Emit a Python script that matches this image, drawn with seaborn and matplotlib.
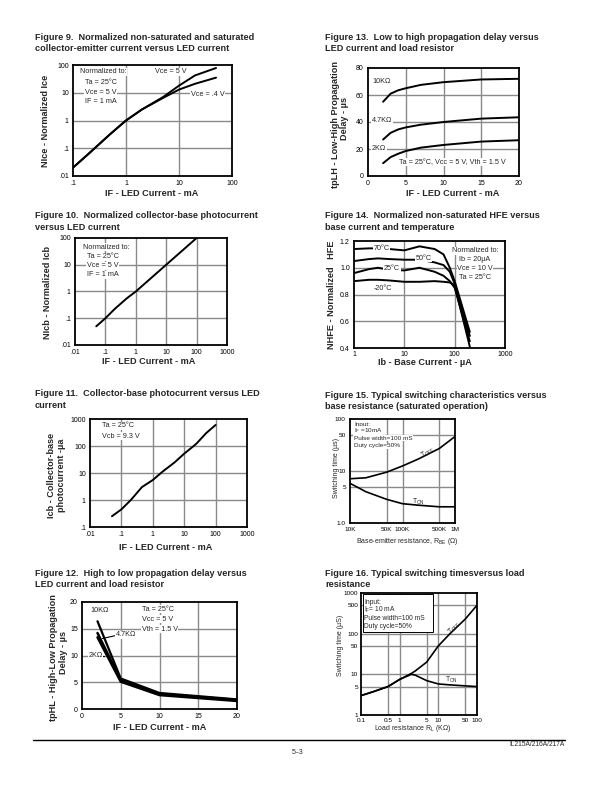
import numpy as np
import pandas as pd
import matplotlib
matplotlib.use("Agg")
import matplotlib.pyplot as plt
import seaborn as sns
from matplotlib.ticker import FixedLocator, NullFormatter, MultipleLocator
from matplotlib.patches import Rectangle

sns.set_theme(style="white")
plt.rcParams['font.family'] = ['Liberation Sans', 'DejaVu Sans']
plt.rcParams['mathtext.fontset'] = 'custom'
plt.rcParams['mathtext.rm'] = 'Liberation Sans'
plt.rcParams['mathtext.it'] = 'Liberation Sans:italic'
plt.rcParams['mathtext.bf'] = 'Liberation Sans:bold'

# ---------------- data ----------------
# Figure 9
fig9_if = [0.1, 0.2, 0.5, 1, 2, 5, 10, 20, 50]
fig9_vce5 = [0.02, 0.065, 0.32, 1, 2.5, 7.0, 18, 42, 78]
fig9_vce04 = [0.02, 0.065, 0.32, 1, 2.5, 6.5, 13, 21, 35]
fig9_xticks = [0.1, 1, 10, 100]
fig9_xlabels = [".1", "1", "10", "100"]
fig9_yticks = [0.01, 0.1, 1, 10, 100]
fig9_ylabels = [".01", ".1", "1", "10", "100"]

# Figure 13
fig13_if = [2, 3, 4, 5, 7, 10, 15, 20]
fig13_10k = [55, 61, 63.5, 65, 67.5, 69.5, 71.5, 72]
fig13_47k = [27, 32, 34.5, 36, 38, 40, 42.5, 43.5]
fig13_2k = [9.5, 14, 16.5, 18.5, 21, 23, 25.5, 26.5]
fig13_xticks = [0, 5, 10, 15, 20]
fig13_yticks = [0, 20, 40, 60, 80]

# Figure 10
fig10_if = [0.05, 0.1, 0.2, 0.5, 1, 10, 100]
fig10_nicb = [0.05, 0.1, 0.22, 0.55, 1, 10, 100]
fig10_xticks = [0.01, 0.1, 1, 10, 100, 1000]
fig10_xlabels = [".01", ".1", "1", "10", "100", "1000"]
fig10_yticks = [0.01, 0.1, 1, 10, 100]
fig10_ylabels = [".01", ".1", "1", "10", "100"]

# Figure 14
fig14_ib = [1, 2, 3, 5, 10, 20, 40, 60, 80, 100, 200]
fig14_70 = [1.14, 1.145, 1.145, 1.14, 1.13, 1.16, 1.14, 1.10, 1.00, 0.90, 0.52]
fig14_50 = [1.05, 1.065, 1.07, 1.065, 1.06, 1.06, 1.04, 1.02, 0.97, 0.88, 0.49]
fig14_25 = [0.96, 0.99, 1.00, 0.985, 0.98, 1.00, 0.97, 0.94, 0.90, 0.85, 0.45]
fig14_m20 = [0.90, 0.91, 0.91, 0.905, 0.895, 0.895, 0.90, 0.895, 0.89, 0.87, 0.41]
fig14_xticks = [1, 10, 100, 1000]
fig14_xlabels = ["1", "10", "100", "1000"]
fig14_yticks = [0.4, 0.6, 0.8, 1.0, 1.2]
fig14_ylabels = ["0.4", "0.6", "0.8", "1.0", "1.2"]

# Figure 11
fig11_if = [0.05, 0.1, 0.2, 0.45, 1, 2, 5, 10, 20, 25, 50, 100]
fig11_icb = [0.25, 0.45, 1.0, 3, 5.5, 11, 25, 52, 100, 125, 300, 600]
fig11_xticks = [0.01, 0.1, 1, 10, 100, 1000]
fig11_xlabels = [".01", ".1", "1", "10", "100", "1000"]
fig11_yticks = [0.1, 1, 10, 100, 1000]
fig11_ylabels = [".1", "1", "10", "100", "1000"]

# Figure 15
fig15_rbe = [10e3, 20e3, 50e3, 100e3, 200e3, 500e3, 1e6]
fig15_toff = [7.1, 7.4, 9.5, 12.5, 17, 27, 46]
fig15_ton = [5.8, 4.0, 2.85, 2.35, 2.2, 2.05, 2.05]
fig15_xticks = [10e3, 50e3, 100e3, 500e3, 1e6]
fig15_xlabels = ["10K", "50K", "100K", "500K", "1M"]
fig15_yticks = [1, 5, 10, 50, 100]
fig15_ylabels = ["1.0", "5", "10", "50", "100"]

# Figure 12
fig12_if = [2, 5, 10, 20]
fig12_10k = [16.4, 5.7, 3.0, 1.8]
fig12_47k = [14.2, 5.4, 2.8, 1.7]
fig12_2k = [13.4, 5.1, 2.6, 1.5]
fig12_xticks = [0, 5, 10, 15, 20]
fig12_yticks = [0, 5, 10, 15, 20]

# Figure 16
fig16_rl = [0.1, 0.2, 0.5, 1, 2, 2.5, 5, 10, 20, 50, 100]
fig16_toff = [3.0, 3.7, 5, 7.5, 10.5, 12, 20, 50, 100, 230, 500]
fig16_ton = [3.0, 3.7, 5, 7.5, 10, 9.6, 7, 5.8, 5.5, 5.2, 5.0]
fig16_xticks = [0.1, 0.5, 1, 5, 10, 50, 100]
fig16_xlabels = ["0.1", "0.5", "1", "5", "10", "50", "100"]
fig16_yticks = [1, 5, 10, 50, 100, 500, 1000]
fig16_ylabels = ["1", "5", "10", "50", "100", "500", "1000"]

# ---------------- layout helpers ----------------
W, H = 595, 792
fig = plt.figure(figsize=(W / 100, H / 100), dpi=100)
fig.patch.set_facecolor("white")

GRID = "#8a8a8a"
TICKFS = 5
LABFS = 6.6
TITFS = 6.6


def add_ax(l, r, t, b):
    ax = fig.add_axes([l / W, 1 - b / H, (r - l) / W, (b - t) / H])
    ax.set_facecolor("white")
    for s in ax.spines.values():
        s.set_color("black")
        s.set_linewidth(1.3)
        s.set_visible(True)
    ax.tick_params(which="both", direction="in", colors="black",
                   labelsize=TICKFS, pad=3)
    ax.tick_params(which="major", length=0)
    ax.tick_params(which="minor", length=2.2, width=0.8)
    ax.set_xlabel("")
    ax.set_ylabel("")
    return ax


def ftext(x, y, s, **kw):
    kw.setdefault("va", "center")
    kw.setdefault("ha", "left")
    kw.setdefault("fontsize", 5.2)
    return fig.text(x / W, 1 - y / H, s, **kw)


def title(x, y, lines):
    for i, ln in enumerate(lines):
        ftext(x, y + i * 11.2, ln, fontsize=TITFS, fontweight="bold")


def grid_lines(ax, xs, ys):
    for v in xs:
        ax.axvline(v, color=GRID, lw=1.0, zorder=0.5)
    for v in ys:
        ax.axhline(v, color=GRID, lw=1.0, zorder=0.5)


WB = dict(fc="white", ec="none", pad=0.4)


def curve(ax, x, y, lw=1.4):
    sns.lineplot(x=x, y=y, ax=ax, color="black", lw=lw, sort=False,
                 estimator=None, zorder=3)


# ---------------- Figure 9 ----------------
title(35, 37, ["Figure 9.  Normalized non-saturated and saturated",
               "collector-emitter current versus LED current"])
ax = add_ax(73, 232, 65, 176)
curve(ax, fig9_if, fig9_vce5)
curve(ax, fig9_if, fig9_vce04)
ax.set_xscale("log"); ax.set_yscale("log")
ax.set_xlim(0.1, 100); ax.set_ylim(0.01, 100)
grid_lines(ax, fig9_xticks[1:-1], fig9_yticks[1:-1])
ax.xaxis.set_major_locator(FixedLocator(fig9_xticks))
ax.set_xticklabels(fig9_xlabels)
ax.yaxis.set_major_locator(FixedLocator(fig9_yticks))
ax.set_yticklabels(fig9_ylabels)
ax.xaxis.set_minor_locator(FixedLocator([m * d for d in (0.1, 1, 10) for m in range(2, 10)]))
ax.xaxis.set_minor_formatter(NullFormatter())
ax.yaxis.set_minor_locator(FixedLocator([]))
ftext(152, 194, "IF - LED Current - mA", ha="center", fontsize=LABFS, fontweight="bold")
ftext(46, 121, "NIce - Normalized Ice", ha="center", rotation=90, fontsize=LABFS, fontweight="bold")
ftext(80, 71.7, "Normalized to:", bbox=WB)
ftext(85, 82.3, "Ta = 25°C", bbox=WB)
ftext(85, 92.3, "Vce = 5 V", bbox=WB)
ftext(85, 101.7, "IF = 1 mA", bbox=WB)
ftext(155, 71.7, "Vce = 5 V", bbox=WB)
ftext(191, 94.3, "Vce = .4 V", bbox=WB)

# ---------------- Figure 13 ----------------
title(325, 37, ["Figure 13.  Low to high propagation delay versus",
                "LED current and load resistor"])
ax = add_ax(368, 519, 68, 176)
curve(ax, fig13_if, fig13_10k)
curve(ax, fig13_if, fig13_47k)
curve(ax, fig13_if, fig13_2k)
ax.set_xlim(0, 20); ax.set_ylim(0, 80)
grid_lines(ax, fig13_xticks[1:-1], fig13_yticks[1:-1])
ax.xaxis.set_major_locator(FixedLocator(fig13_xticks))
ax.yaxis.set_major_locator(FixedLocator(fig13_yticks))
ax.set_xticklabels([str(v) for v in fig13_xticks])
ax.set_yticklabels([str(v) for v in fig13_yticks])
ax.xaxis.set_minor_locator(MultipleLocator(1))
ax.yaxis.set_minor_locator(MultipleLocator(5))
ftext(453, 193, "IF - LED Current - mA", ha="center", fontsize=LABFS, fontweight="bold")
ftext(335, 124, "tpLH - Low-High Propagation", ha="center", rotation=90, fontsize=LABFS, fontweight="bold")
ftext(344, 118, "Delay - µs", ha="center", rotation=90, fontsize=LABFS, fontweight="bold")
ftext(372.7, 81.7, "10KΩ", bbox=WB)
ftext(371.7, 120.7, "4.7KΩ", bbox=WB)
ftext(371.7, 148.3, "2KΩ", bbox=WB)
ftext(399, 162.3, "Ta = 25°C, Vcc = 5 V, Vth = 1.5 V", bbox=WB)

# ---------------- Figure 10 ----------------
title(35, 216, ["Figure 10.  Normalized collector-base photocurrent",
                "versus LED current"])
ax = add_ax(75, 227, 238, 345)
curve(ax, fig10_if, fig10_nicb)
ax.set_xscale("log"); ax.set_yscale("log")
ax.set_xlim(0.01, 1000); ax.set_ylim(0.01, 100)
grid_lines(ax, fig10_xticks[1:-1], fig10_yticks[1:-1])
ax.xaxis.set_major_locator(FixedLocator(fig10_xticks))
ax.set_xticklabels(fig10_xlabels)
ax.yaxis.set_major_locator(FixedLocator(fig10_yticks))
ax.set_yticklabels(fig10_ylabels)
ax.xaxis.set_minor_locator(FixedLocator([m * d for d in (0.01, 0.1, 1, 10, 100) for m in range(2, 10)]))
ax.xaxis.set_minor_formatter(NullFormatter())
ax.yaxis.set_minor_locator(FixedLocator([]))
ftext(148.5, 361, "IF - LED Current - mA", ha="center", fontsize=LABFS, fontweight="bold")
ftext(48, 292, "NIcb - Normalized Icb", ha="center", rotation=90, fontsize=LABFS, fontweight="bold")
ftext(83.3, 247.3, "Normalized to:", bbox=WB)
ftext(86.7, 256.7, "Ta = 25°C", bbox=WB)
ftext(86.7, 265.7, "Vce = 5 V", bbox=WB)
ftext(86.7, 275, "IF = 1 mA", bbox=WB)

# ---------------- Figure 14 ----------------
title(325, 216, ["Figure 14.  Normalized non-saturated HFE versus",
                 "base current and temperature"])
ax = add_ax(354, 505, 241, 348)
for ys in (fig14_70, fig14_50, fig14_25, fig14_m20):
    curve(ax, fig14_ib, ys)
ax.set_xscale("log")
ax.set_xlim(1, 1000); ax.set_ylim(0.4, 1.2)
grid_lines(ax, fig14_xticks[1:-1], fig14_yticks[1:-1])
ax.xaxis.set_major_locator(FixedLocator(fig14_xticks))
ax.set_xticklabels(fig14_xlabels)
ax.yaxis.set_major_locator(FixedLocator(fig14_yticks))
ax.set_yticklabels(fig14_ylabels)
ax.xaxis.set_minor_locator(FixedLocator([m * d for d in (1, 10, 100) for m in range(2, 10)]))
ax.xaxis.set_minor_formatter(NullFormatter())
ax.yaxis.set_minor_locator(FixedLocator([]))
ax.tick_params(axis="x", pad=2.2)
ftext(425, 362.5, "Ib - Base Current - µA", ha="center", fontsize=LABFS, fontweight="bold")
ftext(332, 295, "NHFE - Normalized   HFE", ha="center", rotation=90, fontsize=LABFS, fontweight="bold")
ftext(373.3, 248.3, "70°C", bbox=WB)
ftext(415.7, 258.3, "50°C", bbox=WB)
ftext(384, 269, "25°C", bbox=WB)
ftext(373.3, 288.3, "-20°C", bbox=WB)
ftext(475, 250.7, "Normalized to:", ha="center", bbox=WB)
ftext(475, 259.3, "Ib = 20µA", ha="center", bbox=WB)
ftext(475, 268.3, "Vce = 10 V", ha="center", bbox=WB)
ftext(475, 277.3, "Ta = 25°C", ha="center", bbox=WB)

# ---------------- Figure 11 ----------------
title(35, 394, ["Figure 11.  Collector-base photocurrent versus LED",
                "current"])
ax = add_ax(90, 247, 419, 527)
curve(ax, fig11_if, fig11_icb)
ax.set_xscale("log"); ax.set_yscale("log")
ax.set_xlim(0.01, 1000); ax.set_ylim(0.1, 1000)
grid_lines(ax, fig11_xticks[1:-1], fig11_yticks[1:-1])
ax.xaxis.set_major_locator(FixedLocator(fig11_xticks))
ax.set_xticklabels(fig11_xlabels)
ax.yaxis.set_major_locator(FixedLocator(fig11_yticks))
ax.set_yticklabels(fig11_ylabels)
ax.xaxis.set_minor_locator(FixedLocator([m * d for d in (0.01, 0.1, 1, 10, 100) for m in range(2, 10)]))
ax.xaxis.set_minor_formatter(NullFormatter())
ax.yaxis.set_minor_locator(FixedLocator([]))
ftext(165.7, 547.7, "IF - LED Current - mA", ha="center", fontsize=LABFS, fontweight="bold")
ftext(51, 475, "Icb - Collector-base", ha="center", rotation=90, fontsize=LABFS, fontweight="bold")
ftext(62, 475, "photocurrent -µa", ha="center", rotation=90, fontsize=LABFS, fontweight="bold")
ftext(102.3, 425.7, "Ta = 25°C", bbox=WB)
ftext(102.3, 436, "Vcb = 9.3 V", bbox=WB)

# ---------------- Figure 15 ----------------
title(325, 395, ["Figure 15. Typical switching characteristics versus",
                 "base resistance (saturated operation)"])
ax = add_ax(350, 455, 419, 523)
curve(ax, fig15_rbe, fig15_toff, lw=1.2)
curve(ax, fig15_rbe, fig15_ton, lw=1.2)
ax.set_xscale("log"); ax.set_yscale("log")
ax.set_xlim(10e3, 1e6); ax.set_ylim(1, 100)
grid_lines(ax, fig15_xticks[1:-1], fig15_yticks[1:-1])
ax.xaxis.set_major_locator(FixedLocator(fig15_xticks))
ax.set_xticklabels(fig15_xlabels)
ax.yaxis.set_major_locator(FixedLocator(fig15_yticks))
ax.set_yticklabels(fig15_ylabels)
ax.xaxis.set_minor_locator(FixedLocator([]))
ax.yaxis.set_minor_locator(FixedLocator([]))
ax.tick_params(labelsize=4.6)
ftext(407, 541.7, "Base-emitter resistance, R$_\\mathregular{BE}$ (Ω)", ha="center", fontsize=5)
ftext(336, 468, "Switching time (µs)", ha="center", rotation=90, fontsize=5)
ftext(354, 424.3, "Input:", fontsize=4.6, bbox=WB)
ftext(354, 430.7, "I$_\\mathregular{F}$ =10mA", fontsize=4.6, bbox=WB)
ftext(354, 438.3, "Pulse width=100 mS", fontsize=4.6, bbox=WB)
ftext(354, 446, "Duty cycle=50%", fontsize=4.6, bbox=WB)
ftext(428, 453, "T$_\\mathregular{OFF}$", ha="center", rotation=30, fontsize=4.8)
ftext(418, 501.7, "T$_\\mathregular{ON}$", ha="center", fontsize=4.8)

# ---------------- Figure 12 ----------------
title(35, 573, ["Figure 12.  High to low propagation delay versus",
                "LED current and load resistor"])
ax = add_ax(82, 237, 602, 709)
curve(ax, fig12_if, fig12_10k, lw=1.6)
curve(ax, fig12_if, fig12_47k, lw=1.8)
curve(ax, fig12_if, fig12_2k, lw=1.8)
ax.set_xlim(0, 20); ax.set_ylim(0, 20)
grid_lines(ax, fig12_xticks[1:-1], fig12_yticks[1:-1])
ax.xaxis.set_major_locator(FixedLocator(fig12_xticks))
ax.yaxis.set_major_locator(FixedLocator(fig12_yticks))
ax.set_xticklabels([str(v) for v in fig12_xticks])
ax.set_yticklabels([str(v) for v in fig12_yticks])
ax.xaxis.set_minor_locator(MultipleLocator(1))
ax.yaxis.set_minor_locator(MultipleLocator(1))
ftext(160, 728, "IF - LED Current - mA", ha="center", fontsize=LABFS, fontweight="bold")
ftext(54, 658, "tpHL - High-Low Propagation", ha="center", rotation=90, fontsize=LABFS, fontweight="bold")
ftext(63, 652, "Delay - µs", ha="center", rotation=90, fontsize=LABFS, fontweight="bold")
ftext(90, 610.7, "10KΩ", bbox=WB)
ftext(116, 635, "4.7KΩ", bbox=WB)
ftext(88.3, 655.7, "2KΩ", bbox=WB)
fig.add_artist(plt.Line2D([102.5 / W, 116 / W], [1 - 638.5 / H, 1 - 635.5 / H], color="black", lw=0.8))
fig.add_artist(plt.Line2D([99 / W, 104 / W], [1 - 655.7 / H, 1 - 655.7 / H], color="black", lw=0.8))
ftext(141.7, 609.3, "Ta = 25°C", bbox=WB)
ftext(141.7, 619.3, "Vcc = 5 V", bbox=WB)
ftext(141.7, 629.3, "Vth = 1.5 V", bbox=WB)

# ---------------- Figure 16 ----------------
title(325, 573, ["Figure 16. Typical switching timesversus load",
                 "resistance"])
ax = add_ax(361, 477, 593, 715)
curve(ax, fig16_rl, fig16_toff, lw=1.2)
curve(ax, fig16_rl, fig16_ton, lw=1.2)
ax.set_xscale("log"); ax.set_yscale("log")
ax.set_xlim(0.1, 100); ax.set_ylim(1, 1000)
grid_lines(ax, fig16_xticks[1:-1], fig16_yticks[1:-1])
ax.xaxis.set_major_locator(FixedLocator(fig16_xticks))
ax.set_xticklabels(fig16_xlabels)
ax.yaxis.set_major_locator(FixedLocator(fig16_yticks))
ax.set_yticklabels(fig16_ylabels)
ax.xaxis.set_minor_locator(FixedLocator([]))
ax.yaxis.set_minor_locator(FixedLocator([]))
ax.tick_params(labelsize=4.6, pad=2)
ax.add_patch(Rectangle((0.02, 0.68), 0.6, 0.31, transform=ax.transAxes,
                       fc="white", ec="black", lw=0.7, zorder=2))
ftext(413, 728, "Load resistance R$_\\mathregular{L}$ (KΩ)", ha="center", fontsize=5)
ftext(341, 645, "Switching time (µS)", ha="center", rotation=90, fontsize=5)
ftext(364.3, 602.3, "Input:", fontsize=4.8)
ftext(364.3, 610, "I$_\\mathregular{F}$= 10 mA", fontsize=4.8)
ftext(364.3, 618.3, "Pulse width=100 mS", fontsize=4.8)
ftext(364.3, 626.7, "Duty cycle=50%", fontsize=4.8)
ftext(455, 628, "T$_\\mathregular{OFF}$", ha="center", rotation=45, fontsize=4.8)
ftext(451.7, 680, "T$_\\mathregular{ON}$", ha="center", fontsize=4.8)

# ---------------- footer ----------------
fig.add_artist(plt.Line2D([33 / W, 565 / W], [1 - 739.5 / H, 1 - 739.5 / H], color="black", lw=1.0))
ftext(565, 744.5, "IL215A/216A/217A", ha="right", fontsize=4.8)
ftext(298, 752, "5–3", ha="center", fontsize=5)

fig.savefig("out.png", dpi=100, facecolor="white")
